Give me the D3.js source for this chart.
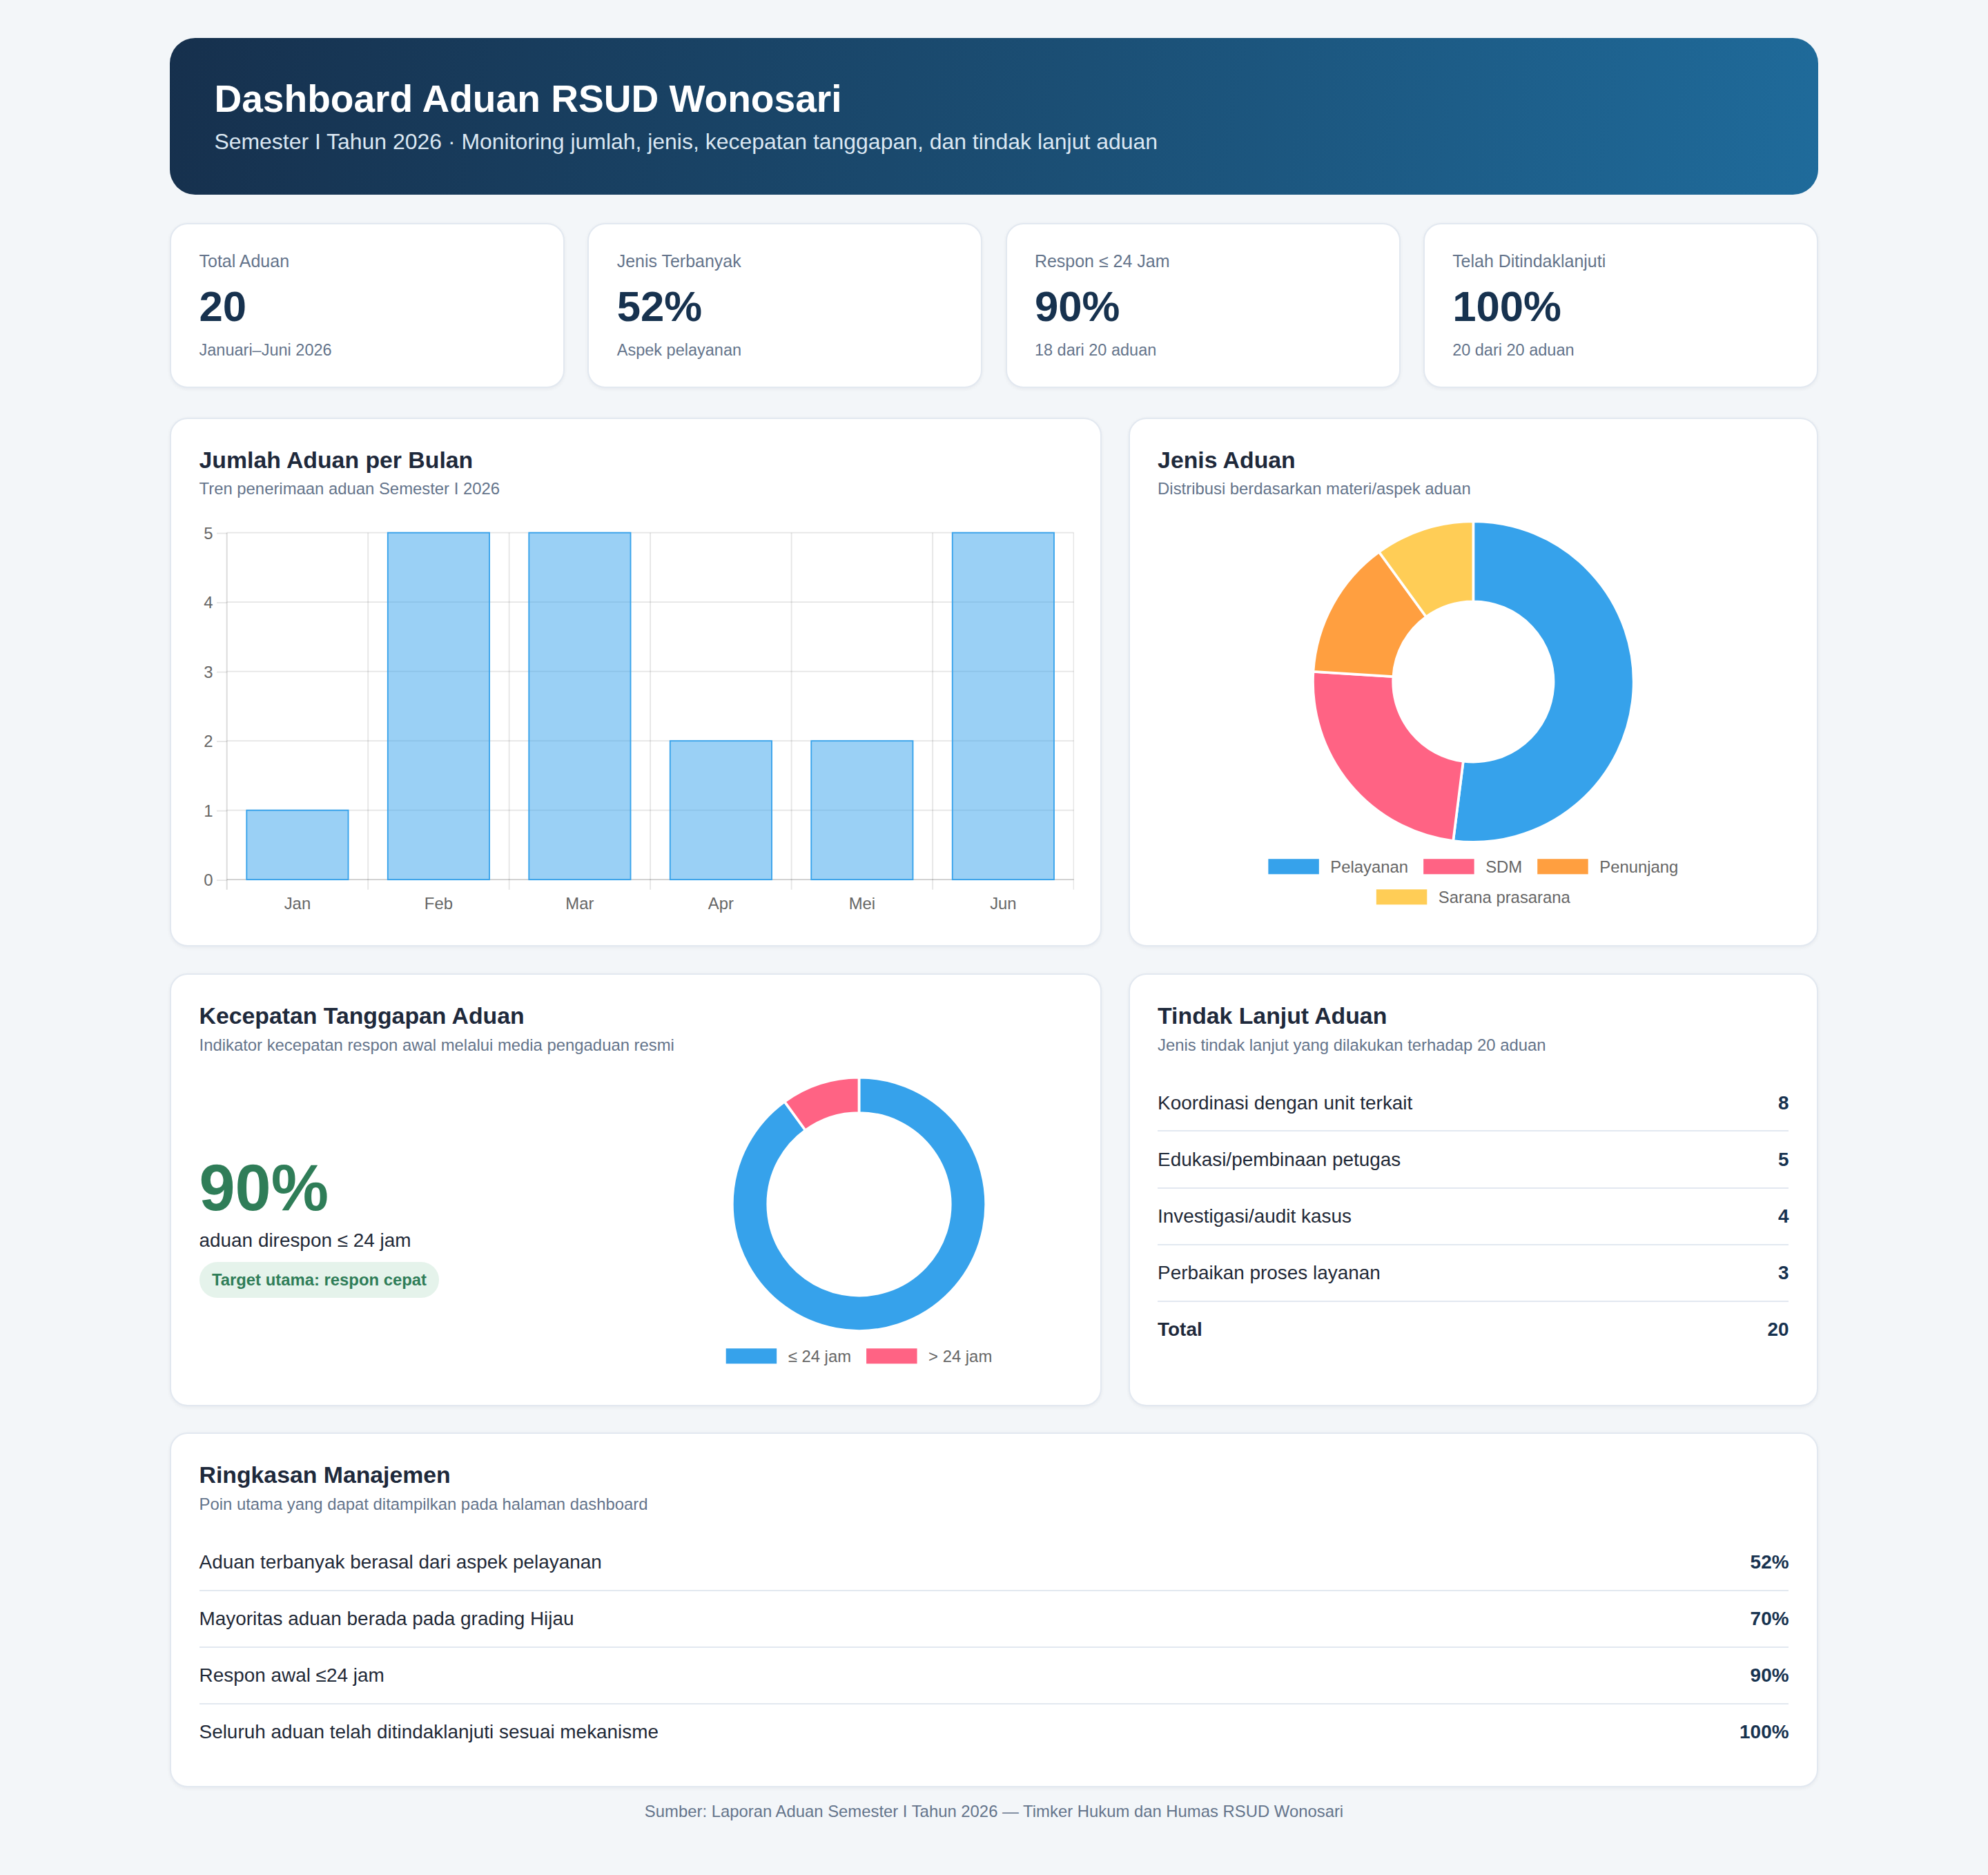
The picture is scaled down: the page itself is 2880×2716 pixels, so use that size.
<!DOCTYPE html>
<html lang="id">
<head>
<meta charset="utf-8">
<title>Dashboard Aduan RSUD Wonosari</title>
<script src="https://cdn.jsdelivr.net/npm/d3@7"></script>
<style>
  html { zoom: 1.8367347; }
  body { margin: 0; background: #f3f6f9; font-family: "Liberation Sans", Arial, Helvetica, sans-serif; color: #1f2937; }
  .wrap { width: 1300px; margin: 0 auto; padding: 30px 0 40px; }
  .hero { height: 123.4px; box-sizing: border-box; padding: 30px 35px; border-radius: 20px;
    background: linear-gradient(100deg, #16304d 0%, #1b4f75 55%, #1f6b9b 100%); color: #fff; }
  .hero h1 { margin: 0; font-size: 30px; line-height: 36px; font-weight: 700; }
  .hero p { margin: 3.4px 0 0; font-size: 17.4px; line-height: 24px; color: #dbe7f2; }
  .card { background: #fff; border: 1.1px solid #e2e8f0; border-radius: 14px; box-sizing: border-box;
    box-shadow: 0 1px 3px rgba(15, 23, 42, 0.05); }
  .kpis { display: grid; grid-template-columns: repeat(4, 1fr); gap: 18px; margin-top: 22.6px; }
  .kpi { height: 130px; padding: 20px 22px; }
  .kpi .lbl { font-size: 13.6px; line-height: 18px; color: #64748b; }
  .kpi .val { margin-top: 6.7px; font-size: 33.6px; line-height: 40px; font-weight: 700; color: #17324f; }
  .kpi .note { margin-top: 5.5px; font-size: 12.8px; line-height: 18px; color: #64748b; }
  .row2 { display: grid; grid-template-columns: 735px 544px; gap: 21px; }
  .panel { padding: 20px 22px 22px; }
  .panel h3 { margin: 0; font-size: 18.4px; line-height: 24px; font-weight: 700; color: #1e293b; }
  .panel .sub { margin-top: 2px; font-size: 13px; line-height: 18px; color: #64748b; }
  .chart svg { display: block; margin-top: 6px; }
  .speed-body { display: flex; gap: 16px; height: 239px; margin-top: 14px; }
  .speed-left { flex: 1; display: flex; flex-direction: column; justify-content: center; align-items: flex-start; }
  .big { font-size: 51px; line-height: 55px; font-weight: 700; color: #2f7d58; }
  .big-sub { margin-top: 4px; font-size: 15.2px; line-height: 20px; color: #1f2937; }
  .pill { margin-top: 7px; height: 28px; line-height: 28px; padding: 0 10px; border-radius: 14px;
    background: #e5f3eb; color: #2f7d58; font-weight: 700; font-size: 13px; }
  .list { margin-top: 15px; }
  .item { display: flex; justify-content: space-between; padding: 11px 0; line-height: 21.6px;
    font-size: 15.2px; border-bottom: 1.1px solid #e2e8f0; color: #1f2937; }
  .item:last-child { border-bottom: none; }
  .item .num { font-weight: 700; color: #17324f; }
  .item.total .name { font-weight: 700; color: #1e293b; }
  .foot { margin-top: 10px; text-align: center; font-size: 13px; line-height: 18px; color: #64748b; }
</style>
</head>
<body>
<div class="wrap">
  <div class="hero">
    <h1>Dashboard Aduan RSUD Wonosari</h1>
    <p>Semester I Tahun 2026 · Monitoring jumlah, jenis, kecepatan tanggapan, dan tindak lanjut aduan</p>
  </div>

  <div class="kpis" id="kpis"></div>

  <div class="row2" style="margin-top:23.4px">
    <div class="card panel">
      <h3>Jumlah Aduan per Bulan</h3>
      <div class="sub">Tren penerimaan aduan Semester I 2026</div>
      <div class="chart" id="bar"></div>
    </div>
    <div class="card panel">
      <h3>Jenis Aduan</h3>
      <div class="sub">Distribusi berdasarkan materi/aspek aduan</div>
      <div class="chart" id="jenis"></div>
    </div>
  </div>

  <div class="row2" style="margin-top:21.3px">
    <div class="card panel">
      <h3>Kecepatan Tanggapan Aduan</h3>
      <div class="sub">Indikator kecepatan respon awal melalui media pengaduan resmi</div>
      <div class="speed-body">
        <div class="speed-left">
          <div class="big" id="speedPct"></div>
          <div class="big-sub">aduan direspon ≤ 24 jam</div>
          <div class="pill">Target utama: respon cepat</div>
        </div>
        <div id="speed"></div>
      </div>
    </div>
    <div class="card panel">
      <h3>Tindak Lanjut Aduan</h3>
      <div class="sub">Jenis tindak lanjut yang dilakukan terhadap 20 aduan</div>
      <div class="list" id="tindak"></div>
    </div>
  </div>

  <div class="card panel" style="margin-top:21px; padding-bottom:20.5px">
    <h3>Ringkasan Manajemen</h3>
    <div class="sub">Poin utama yang dapat ditampilkan pada halaman dashboard</div>
    <div class="list" id="ringkas"></div>
  </div>

  <div class="foot">Sumber: Laporan Aduan Semester I Tahun 2026 — Timker Hukum dan Humas RSUD Wonosari</div>
</div>

<script>
// data
const kpiLabels = ['Total Aduan', 'Jenis Terbanyak', 'Respon ≤ 24 Jam', 'Telah Ditindaklanjuti']
const kpiValues = ['20', '52%', '90%', '100%']
const kpiNotes = ['Januari–Juni 2026', 'Aspek pelayanan', '18 dari 20 aduan', '20 dari 20 aduan']

const months = ['Jan', 'Feb', 'Mar', 'Apr', 'Mei', 'Jun']
const monthCounts = [1, 5, 5, 2, 2, 5]
const yTicks = [0, 1, 2, 3, 4, 5]

const jenisLabels = ['Pelayanan', 'SDM', 'Penunjang', 'Sarana prasarana']
const jenisValues = [52, 24, 14, 10]
const jenisColors = ['#36a2eb', '#ff6384', '#ff9f40', '#ffcd56']

const speedLabels = ['≤ 24 jam', '> 24 jam']
const speedValues = [18, 2]
const speedColors = ['#36a2eb', '#ff6384']

const tindakLabels = ['Koordinasi dengan unit terkait', 'Edukasi/pembinaan petugas', 'Investigasi/audit kasus', 'Perbaikan proses layanan']
const tindakValues = [8, 5, 4, 3]

const ringkasLabels = ['Aduan terbanyak berasal dari aspek pelayanan', 'Mayoritas aduan berada pada grading Hijau', 'Respon awal ≤24 jam', 'Seluruh aduan telah ditindaklanjuti sesuai mekanisme']
const ringkasValues = ['52%', '70%', '90%', '100%']

// kpi cards
const kpi = d3.select('#kpis').selectAll('.kpi')
  .data(kpiLabels)
  .join('div')
  .attr('class', 'card kpi')
kpi.append('div').attr('class', 'lbl').text(d => d)
kpi.append('div').attr('class', 'val').text((d, i) => kpiValues[i])
kpi.append('div').attr('class', 'note').text((d, i) => kpiNotes[i])

// bar chart
function barChart (sel, w, h) {
  const m = { top: 19.4, right: 0.4, bottom: 30, left: 21.6 }
  const iw = w - m.left - m.right
  const ih = h - m.top - m.bottom
  const grid = 'rgba(0,0,0,0.1)'

  const svg = d3.select(sel).append('svg').attr('width', w).attr('height', h)
  const g = svg.append('g').attr('transform', 'translate(' + m.left + ',' + m.top + ')')

  const x = d3.scaleBand().domain(months).range([0, iw]).paddingInner(0.28).paddingOuter(0.14)
  const xCat = d3.scaleBand().domain(months).range([0, iw])
  const y = d3.scaleLinear().domain([0, d3.max(yTicks)]).range([ih, 0])

  g.append('g').selectAll('line')
    .data(yTicks)
    .join('line')
    .attr('x1', 0).attr('x2', iw)
    .attr('y1', d => y(d)).attr('y2', d => y(d))
    .attr('stroke', d => d === 0 ? 'rgba(0,0,0,0.2)' : grid)

  const bounds = months.map(d => xCat(d)).concat([iw])
  g.append('g').selectAll('line')
    .data(bounds)
    .join('line')
    .attr('x1', d => d).attr('x2', d => d)
    .attr('y1', 0).attr('y2', ih + 8)
    .attr('stroke', (d, i) => i === 0 ? 'rgba(0,0,0,0.15)' : grid)

  g.append('g').selectAll('rect')
    .data(monthCounts)
    .join('rect')
    .attr('x', (d, i) => x(months[i]))
    .attr('y', d => y(d))
    .attr('width', x.bandwidth())
    .attr('height', d => ih - y(d))
    .attr('fill', 'rgba(54,162,235,0.5)')
    .attr('stroke', '#36a2eb')
    .attr('stroke-width', 1)

  const ya = g.append('g')
    .call(d3.axisLeft(y).tickValues(yTicks).tickFormat(d3.format('d')).tickSize(8).tickPadding(3))
  ya.select('.domain').remove()
  ya.selectAll('line').attr('stroke', grid)
  ya.selectAll('text').attr('fill', '#666').style('font-size', '13px').attr('dy', '0.34em')
  ya.attr('font-family', null)

  const xa = g.append('g')
    .attr('transform', 'translate(0,' + ih + ')')
    .call(d3.axisBottom(xCat).tickSize(0).tickPadding(14.3))
  xa.select('.domain').remove()
  xa.selectAll('text').attr('fill', '#666').style('font-size', '13px')
  xa.attr('font-family', null)
}

// donut with chart.js-like legend
function donut (sel, w, h, labels, values, colors, opt) {
  const svg = d3.select(sel).append('svg').attr('width', w).attr('height', h)
  const g = svg.append('g').attr('transform', 'translate(' + w / 2 + ',' + opt.cy + ')')

  const pie = d3.pie().sort(null).value(d => d)
  const arc = d3.arc().innerRadius(opt.r).outerRadius(opt.R)

  g.selectAll('path')
    .data(pie(values))
    .join('path')
    .attr('d', arc)
    .attr('fill', (d, i) => colors[i])
    .attr('stroke', '#fff')
    .attr('stroke-width', 2)

  const lg = svg.append('g').attr('font-size', 13)
  const items = lg.selectAll('g')
    .data(labels)
    .join('g')
  items.append('rect')
    .attr('width', 40).attr('height', 12).attr('y', -6)
    .attr('fill', (d, i) => colors[i])
  items.append('text')
    .attr('x', 49).attr('dy', '0.35em')
    .attr('fill', '#666')
    .text(d => d)

  const widths = []
  items.each(function () { widths.push(49 + d3.select(this).select('text').node().getComputedTextLength()) })

  const rows = [[]]
  let cur = 0
  widths.forEach((wd, i) => {
    const add = (rows[rows.length - 1].length ? 12 : 0) + wd
    if (cur + add > opt.maxW && rows[rows.length - 1].length) {
      rows.push([i])
      cur = wd
    } else {
      rows[rows.length - 1].push(i)
      cur += add
    }
  })

  rows.forEach((row, ri) => {
    const total = d3.sum(row, i => widths[i]) + 12 * (row.length - 1)
    let xx = (w - total) / 2
    row.forEach(i => {
      d3.select(items.nodes()[i]).attr('transform', 'translate(' + xx + ',' + (opt.legendY + ri * 24) + ')')
      xx += widths[i] + 12
    })
  })
}

function list (sel, labels, values, totalLabel) {
  const rows = labels.map((d, i) => ({ name: d, num: values[i], total: false }))
  if (totalLabel) rows.push({ name: totalLabel, num: d3.sum(values), total: true })
  const it = d3.select(sel).selectAll('.item')
    .data(rows)
    .join('div')
    .attr('class', d => d.total ? 'item total' : 'item')
  it.append('span').attr('class', 'name').text(d => d.name)
  it.append('span').attr('class', 'num').text(d => d.num)
}

barChart('#bar', 690, 323)
donut('#jenis', 498, 323, jenisLabels, jenisValues, jenisColors,
  { cy: 136.9, R: 126.5, r: 63.25, legendY: 282.7, maxW: 470 })
donut('#speed', 337, 239, speedLabels, speedValues, speedColors,
  { cy: 102.5, R: 100, r: 72, legendY: 222.3, maxW: 330 })

d3.select('#speedPct').text(Math.round(speedValues[0] / d3.sum(speedValues) * 100) + '%')

list('#tindak', tindakLabels, tindakValues, 'Total')
list('#ringkas', ringkasLabels, ringkasValues)
</script>
</body>
</html>
